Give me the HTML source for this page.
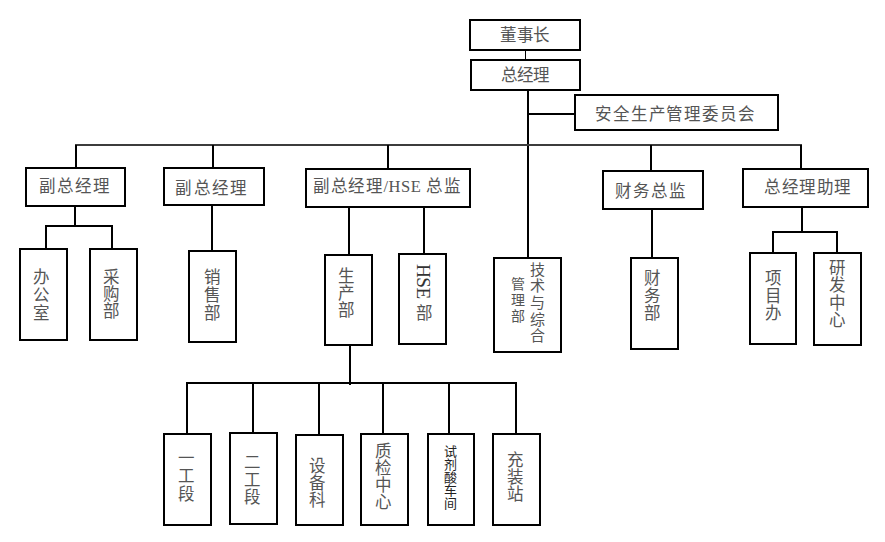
<!DOCTYPE html><html lang="zh-CN"><head><meta charset="utf-8"><style>
html,body{margin:0;padding:0;background:#fff;}
body{width:885px;height:542px;position:relative;overflow:hidden;font-family:"Liberation Serif", serif;}
.t{position:absolute;white-space:nowrap;}
.b{position:absolute;box-sizing:border-box;border:2px solid #000;}
.l{position:absolute;background:#000;}
</style></head><body>

<div class="b" style="left:469px;top:19px;width:112px;height:32px"></div>
<div class="b" style="left:470px;top:59px;width:111px;height:32px"></div>
<div class="b" style="left:574px;top:94px;width:205px;height:37px"></div>
<div class="b" style="left:25px;top:167px;width:101px;height:40px"></div>
<div class="b" style="left:163px;top:167px;width:102px;height:39px"></div>
<div class="b" style="left:305px;top:168px;width:166.2px;height:40px"></div>
<div class="b" style="left:602px;top:170px;width:102px;height:40px"></div>
<div class="b" style="left:742px;top:168px;width:127px;height:40.19999999999999px"></div>
<div class="b" style="left:19px;top:247.5px;width:49px;height:93.0px"></div>
<div class="b" style="left:89px;top:248px;width:49px;height:93px"></div>
<div class="b" style="left:188px;top:250px;width:48.5px;height:92.5px"></div>
<div class="b" style="left:324px;top:253.5px;width:49px;height:92.5px"></div>
<div class="b" style="left:398px;top:252.5px;width:49px;height:92.5px"></div>
<div class="b" style="left:492.5px;top:257px;width:69.0px;height:95.5px"></div>
<div class="b" style="left:630px;top:256.5px;width:48.5px;height:93.0px"></div>
<div class="b" style="left:749px;top:251.5px;width:48px;height:93.5px"></div>
<div class="b" style="left:813px;top:252.3px;width:48.5px;height:93.69999999999999px"></div>
<div class="b" style="left:163px;top:432.5px;width:48.80000000000001px;height:93.0px"></div>
<div class="b" style="left:229px;top:431.7px;width:48.5px;height:93.30000000000001px"></div>
<div class="b" style="left:295px;top:433.5px;width:49px;height:92.5px"></div>
<div class="b" style="left:360px;top:432.5px;width:48.5px;height:93.0px"></div>
<div class="b" style="left:426.5px;top:432.5px;width:48.0px;height:93.5px"></div>
<div class="b" style="left:492px;top:432.5px;width:48.5px;height:93.0px"></div>
<div class="l" style="left:524.5px;top:50px;width:1.5px;height:9px"></div>
<div class="l" style="left:527px;top:91px;width:2px;height:166px"></div>
<div class="l" style="left:529px;top:113px;width:45px;height:2px"></div>
<div class="l" style="left:75px;top:144px;width:727px;height:2px;background:#3c3c3c"></div>
<div class="l" style="left:75px;top:145px;width:2px;height:22px"></div>
<div class="l" style="left:212px;top:145px;width:2px;height:22px"></div>
<div class="l" style="left:387px;top:145px;width:2px;height:23.5px"></div>
<div class="l" style="left:650px;top:145px;width:2px;height:25px"></div>
<div class="l" style="left:800px;top:145px;width:2px;height:23px"></div>
<div class="l" style="left:73.5px;top:207px;width:2.0px;height:19px"></div>
<div class="l" style="left:44.8px;top:225px;width:68.2px;height:2px"></div>
<div class="l" style="left:44.8px;top:226px;width:2.0px;height:22px"></div>
<div class="l" style="left:111px;top:226px;width:2px;height:23px"></div>
<div class="l" style="left:211px;top:206px;width:2px;height:44px"></div>
<div class="l" style="left:348px;top:208px;width:2px;height:46px"></div>
<div class="l" style="left:423px;top:208px;width:2px;height:45px"></div>
<div class="l" style="left:651px;top:210px;width:2px;height:47px"></div>
<div class="l" style="left:800.5px;top:208px;width:2.0px;height:23px"></div>
<div class="l" style="left:772px;top:230.5px;width:65.5px;height:2.0px"></div>
<div class="l" style="left:772px;top:231px;width:2px;height:21px"></div>
<div class="l" style="left:835.5px;top:231px;width:2.0px;height:22px"></div>
<div class="l" style="left:348.5px;top:346px;width:2.0px;height:39px"></div>
<div class="l" style="left:186px;top:382px;width:330.5px;height:2px"></div>
<div class="l" style="left:186px;top:383px;width:2px;height:50px"></div>
<div class="l" style="left:252px;top:383px;width:2px;height:49px"></div>
<div class="l" style="left:318px;top:383px;width:2px;height:51px"></div>
<div class="l" style="left:382px;top:383px;width:2px;height:50px"></div>
<div class="l" style="left:448px;top:383px;width:2px;height:50px"></div>
<div class="l" style="left:515px;top:383px;width:2px;height:50px"></div>
<div class="t" style="left:499.85px;top:28.40px;font-size:16.50px;line-height:16.50px;letter-spacing:-0.25px;color:#555">董事长</div>
<div class="t" style="left:500.85px;top:68.15px;font-size:16.50px;line-height:16.50px;letter-spacing:-0.75px;color:#555">总经理</div>
<div class="t" style="left:595.15px;top:107.20px;font-size:16.50px;line-height:16.50px;letter-spacing:0.81px;color:#555">安全生产管理委员会</div>
<div class="t" style="left:39.30px;top:178.90px;font-size:16.50px;line-height:16.50px;letter-spacing:1.00px;color:#555">副总经理</div>
<div class="t" style="left:175.40px;top:180.65px;font-size:16.50px;line-height:16.50px;letter-spacing:1.27px;color:#555">副总经理</div>
<div class="t" style="left:313.10px;top:178.50px;font-size:16.50px;line-height:16.50px;letter-spacing:0.58px;color:#555">副总经理/HSE 总监</div>
<div class="t" style="left:614.50px;top:183.90px;font-size:16.50px;line-height:16.50px;letter-spacing:1.33px;color:#555">财务总监</div>
<div class="t" style="left:763.90px;top:179.85px;font-size:16.50px;line-height:16.50px;letter-spacing:0.65px;color:#555">总经理助理</div>
<div class="t" style="left:33.45px;top:269.25px;font-size:16.50px;line-height:17.85px;color:#555">办<br>公<br>室</div>
<div class="t" style="left:103.45px;top:270.25px;font-size:16.50px;line-height:16.85px;color:#555">采<br>购<br>部</div>
<div class="t" style="left:203.65px;top:269.10px;font-size:16.50px;line-height:18.10px;color:#555">销<br>售<br>部</div>
<div class="t" style="left:338.40px;top:269.20px;font-size:16.50px;line-height:16.90px;color:#555">生<br>产<br>部</div>
<div class="t" style="left:432.50px;top:264.25px;font-size:19.20px;line-height:19.20px;letter-spacing:-0.55px;color:#333;transform:rotate(90deg);transform-origin:0 0">HSE</div>
<div class="t" style="left:415.60px;top:306.00px;font-size:16.50px;line-height:16.50px;color:#555">部</div>
<div class="t" style="left:530.25px;top:261.50px;font-size:15.00px;line-height:16.70px;color:#555">技<br>术<br>与<br>综<br>合</div>
<div class="t" style="left:510.70px;top:277.25px;font-size:14.00px;line-height:15.85px;color:#555">管<br>理<br>部</div>
<div class="t" style="left:644.45px;top:270.25px;font-size:16.50px;line-height:17.35px;color:#555">财<br>务<br>部</div>
<div class="t" style="left:765.15px;top:270.00px;font-size:16.50px;line-height:17.60px;color:#555">项<br>目<br>办</div>
<div class="t" style="left:828.65px;top:259.50px;font-size:16.50px;line-height:17.50px;color:#555">研<br>发<br>中<br>心</div>
<div class="t" style="left:177.65px;top:450.05px;font-size:16.50px;line-height:18.05px;color:#555">一<br>工<br>段</div>
<div class="t" style="left:244.45px;top:454.35px;font-size:16.50px;line-height:17.35px;color:#555">二<br>工<br>段</div>
<div class="t" style="left:309.20px;top:457.75px;font-size:16.50px;line-height:17.35px;color:#555">设<br>备<br>科</div>
<div class="t" style="left:374.65px;top:444.40px;font-size:16.50px;line-height:16.83px;color:#555">质<br>检<br>中<br>心</div>
<div class="t" style="left:444.40px;top:445.15px;font-size:13.00px;line-height:13.08px;color:#222">试<br>剂<br>酸<br>车<br>间</div>
<div class="t" style="left:506.50px;top:453.25px;font-size:16.50px;line-height:16.85px;color:#555">充<br>装<br>站</div>
</body></html>
